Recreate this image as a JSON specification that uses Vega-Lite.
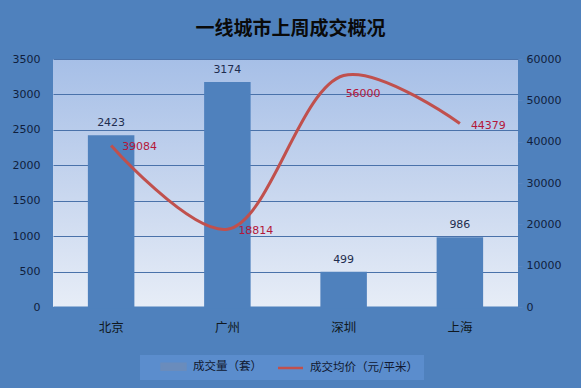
{
  "$schema": "https://vega.github.io/schema/vega-lite/v6.json",
  "autosize": "none",
  "width": 465,
  "height": 248,
  "padding": {"left": 53, "top": 59, "right": 63, "bottom": 81},
  "background": "#4F81BD",
  "title": {
    "text": "一线城市上周成交概况",
    "font": "Noto Sans CJK SC",
    "fontSize": 19,
    "fontWeight": "bold",
    "color": "#0A0A0A",
    "anchor": "middle",
    "dx": 5,
    "offset": 14
  },
  "data": {
    "values": [
      {"city": "北京", "volume": 2423, "price": 39084},
      {"city": "广州", "volume": 3174, "price": 18814},
      {"city": "深圳", "volume": 499, "price": 56000},
      {"city": "上海", "volume": 986, "price": 44379}
    ]
  },
  "encoding": {
    "x": {
      "field": "city",
      "type": "nominal",
      "sort": null,
      "scale": {"paddingInner": 0.6, "paddingOuter": 0.3},
      "axis": {
        "title": null,
        "labelAngle": 0,
        "labelFont": "Noto Sans CJK SC",
        "labelFontSize": 12.5,
        "labelColor": "#101820",
        "labelPadding": 14,
        "ticks": false,
        "domainColor": "#4F81BD",
        "domainWidth": 2
      }
    }
  },
  "layer": [
    {
      "layer": [
        {
          "mark": {"type": "bar", "fill": "#4F81BD"},
          "encoding": {
            "y": {
              "field": "volume",
              "type": "quantitative",
              "scale": {"domain": [0, 3500]},
              "axis": {
                "title": null,
                "values": [0, 500, 1000, 1500, 2000, 2500, 3000, 3500],
                "format": "d",
                "grid": true,
                "gridColor": "#4A72AA",
                "gridWidth": 1,
                "ticks": false,
                "domain": false,
                "labelPadding": 13,
                "labelFont": "DejaVu Sans",
                "labelFontSize": 11,
                "labelColor": "#0F1E3C"
              }
            },
            "color": {
              "datum": "成交量（套）",
              "type": "nominal",
              "legend": {
                "encode": {
                  "symbols": {
                    "update": {
                      "shape": {"signal": "datum.value === '成交量（套）' ? 'M-2.4,-0.6H2.4V0.6H-2.4Z' : 'M-2.5,0H2.5'"},
                      "fill": {"signal": "datum.value === '成交量（套）' ? '#6A8CBC' : 'transparent'"},
                      "stroke": {"signal": "datum.value === '成交量（套）' ? 'transparent' : '#C0504D'"},
                      "strokeWidth": {"value": 2.5},
                      "opacity": {"value": 1}
                    }
                  }
                }
              }
            }
          }
        },
        {
          "mark": {"type": "text", "dy": -12, "font": "DejaVu Sans", "fontSize": 11, "color": "#1F2D4F"},
          "encoding": {
            "y": {
              "field": "volume",
              "type": "quantitative",
              "scale": {"domain": [0, 3500]},
              "axis": {
                "title": null,
                "values": [0, 500, 1000, 1500, 2000, 2500, 3000, 3500],
                "format": "d",
                "grid": true,
                "gridColor": "#4A72AA",
                "gridWidth": 1,
                "ticks": false,
                "domain": false,
                "labelPadding": 13,
                "labelFont": "DejaVu Sans",
                "labelFontSize": 11,
                "labelColor": "#0F1E3C"
              }
            },
            "text": {"field": "volume", "type": "quantitative", "format": "d"}
          }
        }
      ]
    },
    {
      "layer": [
        {
          "mark": {"type": "line", "interpolate": "catmull-rom", "strokeWidth": 3, "stroke": "#C0504D"},
          "encoding": {
            "y": {
              "field": "price",
              "type": "quantitative",
              "scale": {"domain": [0, 60000]},
              "axis": {
                "orient": "right",
                "title": null,
                "values": [0, 10000, 20000, 30000, 40000, 50000, 60000],
                "format": "d",
                "grid": false,
                "domain": false,
                "ticks": true,
                "tickSize": 4,
                "tickColor": "#5A86C0",
                "labelPadding": 4,
                "labelFont": "DejaVu Sans",
                "labelFontSize": 11,
                "labelColor": "#0F1E3C"
              }
            },
            "color": {"datum": "成交均价（元/平米）", "type": "nominal"}
          }
        },
        {
          "transform": [{"filter": "datum.city !== '深圳'"}],
          "mark": {"type": "text", "align": "left", "dx": 11, "dy": 2, "font": "DejaVu Sans", "fontSize": 11, "color": "#B4173A"},
          "encoding": {
            "y": {
              "field": "price",
              "type": "quantitative",
              "scale": {"domain": [0, 60000]},
              "axis": {
                "orient": "right",
                "title": null,
                "values": [0, 10000, 20000, 30000, 40000, 50000, 60000],
                "format": "d",
                "grid": false,
                "domain": false,
                "ticks": true,
                "tickSize": 4,
                "tickColor": "#5A86C0",
                "labelPadding": 4,
                "labelFont": "DejaVu Sans",
                "labelFontSize": 11,
                "labelColor": "#0F1E3C"
              }
            },
            "text": {"field": "price", "type": "quantitative", "format": "d"}
          }
        },
        {
          "transform": [{"filter": "datum.city === '深圳'"}],
          "mark": {"type": "text", "align": "left", "dx": 2, "dy": 18, "font": "DejaVu Sans", "fontSize": 11, "color": "#B4173A"},
          "encoding": {
            "y": {
              "field": "price",
              "type": "quantitative",
              "scale": {"domain": [0, 60000]},
              "axis": {
                "orient": "right",
                "title": null,
                "values": [0, 10000, 20000, 30000, 40000, 50000, 60000],
                "format": "d",
                "grid": false,
                "domain": false,
                "ticks": true,
                "tickSize": 4,
                "tickColor": "#5A86C0",
                "labelPadding": 4,
                "labelFont": "DejaVu Sans",
                "labelFontSize": 11,
                "labelColor": "#0F1E3C"
              }
            },
            "text": {"field": "price", "type": "quantitative", "format": "d"}
          }
        }
      ]
    }
  ],
  "resolve": {"scale": {"y": "independent"}},
  "config": {
    "view": {
      "stroke": null,
      "fill": {
        "gradient": "linear",
        "x1": 0, "y1": 0, "x2": 0, "y2": 1,
        "stops": [
          {"offset": 0, "color": "#A6BFE7"},
          {"offset": 0.5, "color": "#C6D5EE"},
          {"offset": 1, "color": "#E7EDF7"}
        ]
      }
    },
    "range": {"category": ["#6A8CBC", "#C0504D"]},
    "legend": {
      "orient": "none",
      "legendX": 87,
      "legendY": 296,
      "direction": "horizontal",
      "title": null,
      "fillColor": "#5B8DCD",
      "padding": 5,
      "symbolOffset": 22,
      "columnPadding": 0,
      "labelFont": "Noto Sans CJK SC",
      "labelFontSize": 11.5,
      "labelColor": "#101830",
      "labelOffset": 13,
      "symbolSize": 100,
      "symbolStrokeWidth": 2.5
    }
  }
}
